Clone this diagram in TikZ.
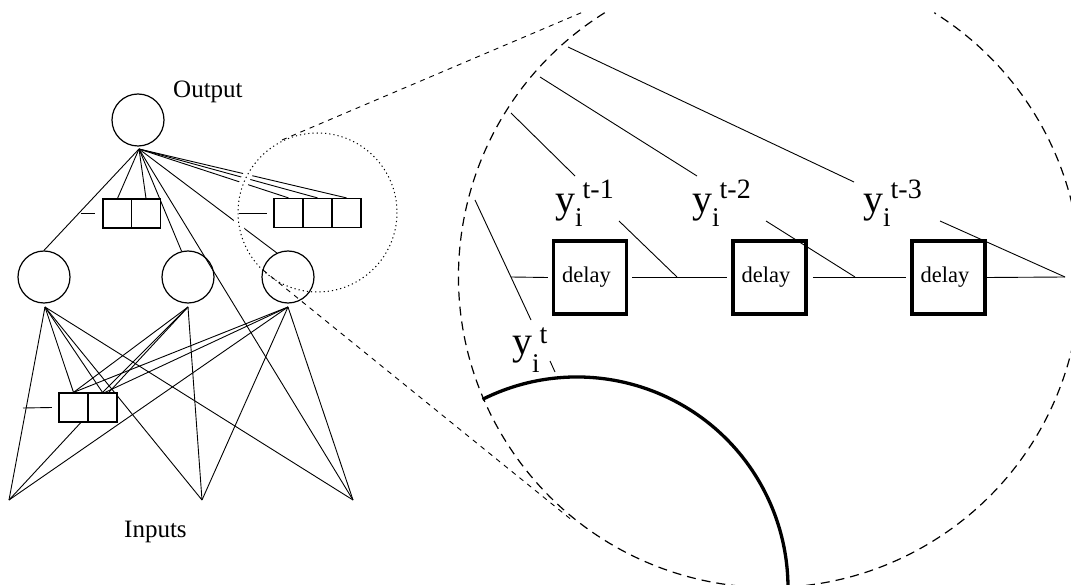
\documentclass[tikz,border=0pt]{standalone}
\usepackage{fontspec}
\setmainfont{Liberation Serif}
\pgfdeclarelayer{bg}
\pgfsetlayers{bg,main}
\begin{document}
\begin{tikzpicture}[x=1pt,y=-1pt,
  conn/.style={line width=0.9pt},
  cell/.style={draw, line width=1.2pt, fill=white, minimum width=29pt, minimum height=29pt, inner sep=0pt},
  neuron/.style={draw, circle, line width=1.2pt, minimum size=52pt, inner sep=0pt},
  delaybox/.style={draw, line width=3.5pt, minimum size=73pt, inner sep=0pt, font=\fontsize{22.5}{22.5}\selectfont},
  bigdash/.style={line width=1.2pt, dash pattern=on 9pt off 6pt},
  thindash/.style={line width=0.9pt, dash pattern=on 5pt off 5pt},
  dotcirc/.style={line width=1pt, dash pattern=on 1.2pt off 3pt},
  lbl/.style={inner sep=0pt, anchor=base west, font=\fontsize{25}{25}\selectfont},
  ylab/.style={inner sep=0pt, anchor=base west, font=\fontsize{40}{40}\selectfont},
  scr/.style={}
]
\useasboundingbox (0,0) rectangle (1071,585);
\clip (0,0) rectangle (1071,585);

% ---------------- left network: nodes ----------------
\node[neuron] (out) at (138,120) {};
\node[neuron] (h1) at (44,277) {};
\node[neuron] (h2) at (188,277) {};
\node[neuron] (h3) at (288,277) {};
\node[cell] (L1) at (117.5,213.5) {};
\node[cell] (L2) at (146,213.5) {};
\node[cell] (R1) at (288.5,213) {};
\node[cell] (R2) at (317.5,213) {};
\node[cell] (R3) at (346.5,213) {};
\node[cell] (B1) at (73.5,407.5) {};
\node[cell] (B2) at (102.5,407.5) {};
\node[lbl] (outlbl) at (173,98) {Output};
\node[lbl] (inlbl) at (124,537) {Inputs};

\coordinate (oa) at (139,149);
\coordinate (h1a) at (45,307);
\coordinate (h2a) at (188,307);
\coordinate (h3a) at (288,307);
\coordinate (i1) at (9,500);
\coordinate (i2) at (202,500);
\coordinate (i3) at (353,500);

% zoom circle
\coordinate (zc) at (317.5,212.5);

\begin{pgfonlayer}{bg}
  \draw[conn] (oa) -- (h1.north);
  \draw[conn] (oa) -- (L1.north);
  \draw[conn] (oa) -- (L2.north);
  \draw[conn] (oa) -- (h2.104);
  \draw[conn] (oa) -- (h3.115);
  \draw[conn] (oa) -- (i3);
  \draw[conn] (oa) -- (R1.north);
  \draw[conn] (oa) -- (R2.north);
  \draw[conn] (oa) -- (R3.north);
  \draw[conn] (h1a) -- (i1);
  \draw[conn] (h1a) -- (B1.north);
  \draw[conn] (h1a) -- (B2.north);
  \draw[conn] (h1a) -- (i2);
  \draw[conn] (h1a) -- (i3);
  \draw[conn] (h2a) -- (B1.north);
  \draw[conn] (h2a) -- (B2.north);
  \draw[conn] (h2a) -- (i1);
  \draw[conn] (h2a) -- (i2);
  \draw[conn] (h3a) -- (B1.north);
  \draw[conn] (h3a) -- ([xshift=2.5pt]B2.north);
  \draw[conn] (h3a) -- (i1);
  \draw[conn] (h3a) -- (i2);
  \draw[conn] (h3a) -- (i3);
  % gaps where the dotted circle crosses
  \draw[white, line width=9pt] (zc) ++(-145:79.5) arc[start angle=-145, end angle=-195, radius=79.5];
\end{pgfonlayer}

% short lines beside the boxes
\coordinate (sl1) at (81,213.5);
\coordinate (sl2) at (239,213);
\coordinate (sl3) at (23,408);
\draw[conn] (sl1) -- ([xshift=-7pt]L1.west);
\draw[conn] (sl2) -- ([xshift=-6.5pt]R1.west);
\draw[conn] (sl3) -- ([xshift=-6.5pt]B1.west);

% dotted zoom circle
\draw[dotcirc] (zc) circle[radius=79.5];

% thin dashed projection lines
\coordinate (zu) at (282,140);
\coordinate (zl) at (263,270);
\coordinate (bu) at (583,12);
\coordinate (bl) at (573,521);
\draw[thindash] (zu) -- (bu);
\draw[thindash] (zl) -- (bl);

% big dashed circle (arc)
\coordinate (bc) at (769.5,276.5);
\draw[bigdash] (bc) ++(-122:311) arc[start angle=-122, end angle=-418, radius=311];

% thick arc (magnified neuron)
\coordinate (tc) at (577,588);
\draw[line width=3.3pt] (tc) ++(-116.6:211) arc[start angle=-116.6, end angle=2, radius=211];

% ---------------- delay chain ----------------
\node[delaybox] (d1) at (590,277.5) {\raisebox{-3.5pt}{delay}\kern7pt};
\node[delaybox] (d2) at (769.5,277.5) {\raisebox{-3.5pt}{delay}\kern7pt};
\node[delaybox] (d3) at (948.5,277.5) {\raisebox{-3.5pt}{delay}\kern7pt};

\coordinate (j1) at (511,277);
\coordinate (j2) at (677,277);
\coordinate (j3) at (855,277);
\coordinate (j4) at (1065,277);

\draw[conn] (j1) -- ([xshift=-4pt]d1.west);
\draw[conn] ([xshift=4pt]d1.east) -- ([xshift=-4pt]d2.west);
\draw[conn] ([xshift=5pt]d2.east) -- ([xshift=-4pt]d3.west);
\draw[conn] (d3.east) -- (j4);

% diagonals to the junctions
\coordinate (a1) at (475,200);
\coordinate (a1e) at (531,320);
\coordinate (a1b) at (550,361);
\coordinate (a1f) at (555,372);
\coordinate (a2) at (619,221);
\coordinate (a3) at (766,221);
\coordinate (a4) at (940,221);
\draw[conn] (a1) -- (a1e);
\draw[conn] (a1b) -- (a1f);
\draw[conn] (a2) -- (j2);
\draw[conn] (a3) -- (j3);
\draw[conn] (a4) -- (j4);

% upper lines from the circle edge
\coordinate (u1) at (511,113);
\coordinate (u1e) at (575,176);
\coordinate (u2) at (540,77);
\coordinate (u2e) at (697,176);
\coordinate (u3) at (568,47);
\coordinate (u3e) at (854,182);
\draw[conn] (u1) -- (u1e);
\draw[conn] (u2) -- (u2e);
\draw[conn] (u3) -- (u3e);

% labels
\node[ylab] (lt0) at (512,354) {y\raisebox{-18pt}{\fontsize{27}{27}\selectfont i}\raisebox{11pt}{\fontsize{28}{28}\selectfont t}};
\node[ylab] (lt1) at (555,213) {y\raisebox{-14pt}{\fontsize{27}{27}\selectfont i}\raisebox{14pt}{\fontsize{28}{28}\selectfont t-1}};
\node[ylab] (lt2) at (692,213) {y\raisebox{-14pt}{\fontsize{27}{27}\selectfont i}\raisebox{14pt}{\fontsize{28}{28}\selectfont t-2}};
\node[ylab] (lt3) at (863,213) {y\raisebox{-14pt}{\fontsize{27}{27}\selectfont i}\raisebox{14pt}{\fontsize{28}{28}\selectfont t-3}};
\end{tikzpicture}
\end{document}
